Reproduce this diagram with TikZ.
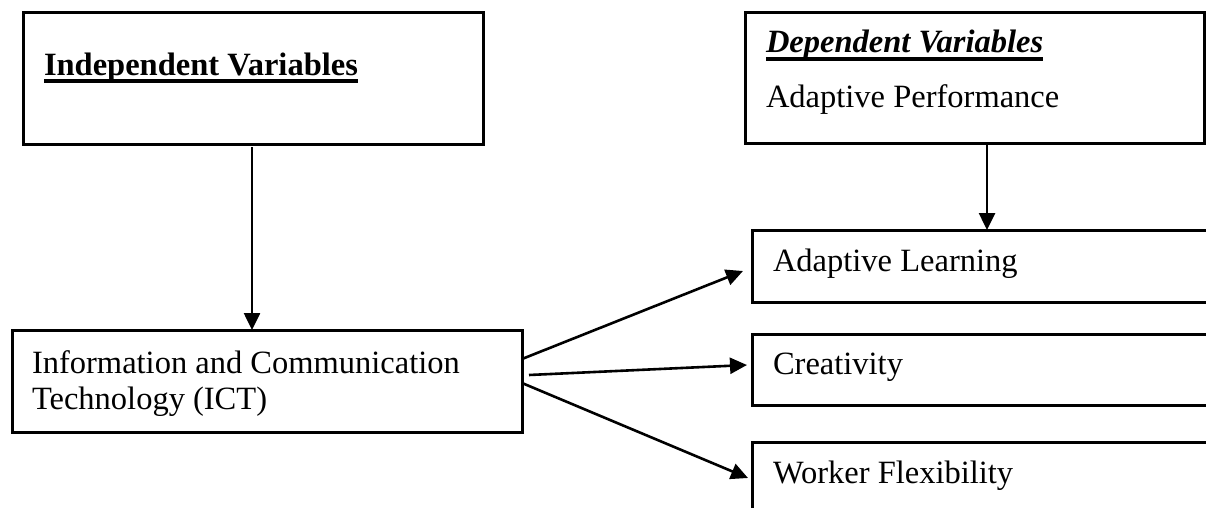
\documentclass[tikz,border=0pt]{standalone}
\usepackage{fontspec}
\setmainfont{Liberation Serif}
\usetikzlibrary{arrows.meta}
\begin{document}
\begin{tikzpicture}[x=1pt,y=-1pt,
  box/.style={draw,line width=3pt,inner sep=0pt,outer sep=0pt,anchor=north west},
  lbl/.style={inner sep=0pt,outer sep=0pt,anchor=base west,font=\fontsize{32.5}{37}\selectfont},
  arr/.style={line width=2.6pt,-{Triangle[length=17pt,width=16pt]}},
  uline/.style={line width=3.2pt}]
\useasboundingbox (0,0) rectangle (1206,508);
\clip (0,0) rectangle (1206,508);
% boxes
\node[box,minimum width=460pt,minimum height=131pt] (indep) at (23,13) {};
\node[box,minimum width=459pt,minimum height=131pt] (dep) at (745,12.5) {};
\node[box,minimum width=510pt,minimum height=102pt] (ict) at (12,330) {};
\node[box,minimum width=480pt,minimum height=72pt] (al) at (752,230) {};
\node[box,minimum width=480pt,minimum height=71pt] (cr) at (752,334) {};
\node[box,minimum width=480pt,minimum height=100pt] (wf) at (752,442) {};
% texts
\node[lbl,font=\fontsize{32.5}{37}\selectfont\bfseries] (ivt) at (44,76) {Independent Variables};
\draw[uline] ([yshift=-5pt]ivt.base west) -- ([yshift=-5pt]ivt.base east);
\node[lbl,font=\fontsize{32.5}{37}\selectfont\bfseries\itshape] (dvt) at (766,53) {Dependent Variables};
\draw[uline] ([yshift=-6pt]dvt.base west) -- ([yshift=-6pt]dvt.base east);
\node[lbl] (apt) at (766,108) {Adaptive Performance};
\node[lbl] (ict1) at (32,373) {Information and Communication};
\node[lbl] (ict2) at (32,409) {Technology (ICT)};
\node[lbl] (alt) at (773,271) {Adaptive Learning};
\node[lbl] (crt) at (773,374) {Creativity};
\node[lbl] (wft) at (773,483) {Worker Flexibility};
% connectors
\draw[arr] ([xshift=-1pt,yshift=-3pt]indep.south) -- ([xshift=-1pt]indep.south |- ict.north);
\draw[arr] ([xshift=12.5pt]dep.south) -- ([xshift=12.5pt]dep.south |- al.north);
\draw[arr] ([yshift=-29pt]ict.north east) -- ([xshift=-9pt,yshift=-5pt]al.west);
\draw[arr] ([xshift=7pt,yshift=-45pt]ict.north east) -- ([xshift=-5pt,yshift=4.5pt]cr.west);
\draw[arr] ([yshift=-53pt]ict.north east) -- ([xshift=-4pt,yshift=-36pt]wf.north west);
\end{tikzpicture}
\end{document}
